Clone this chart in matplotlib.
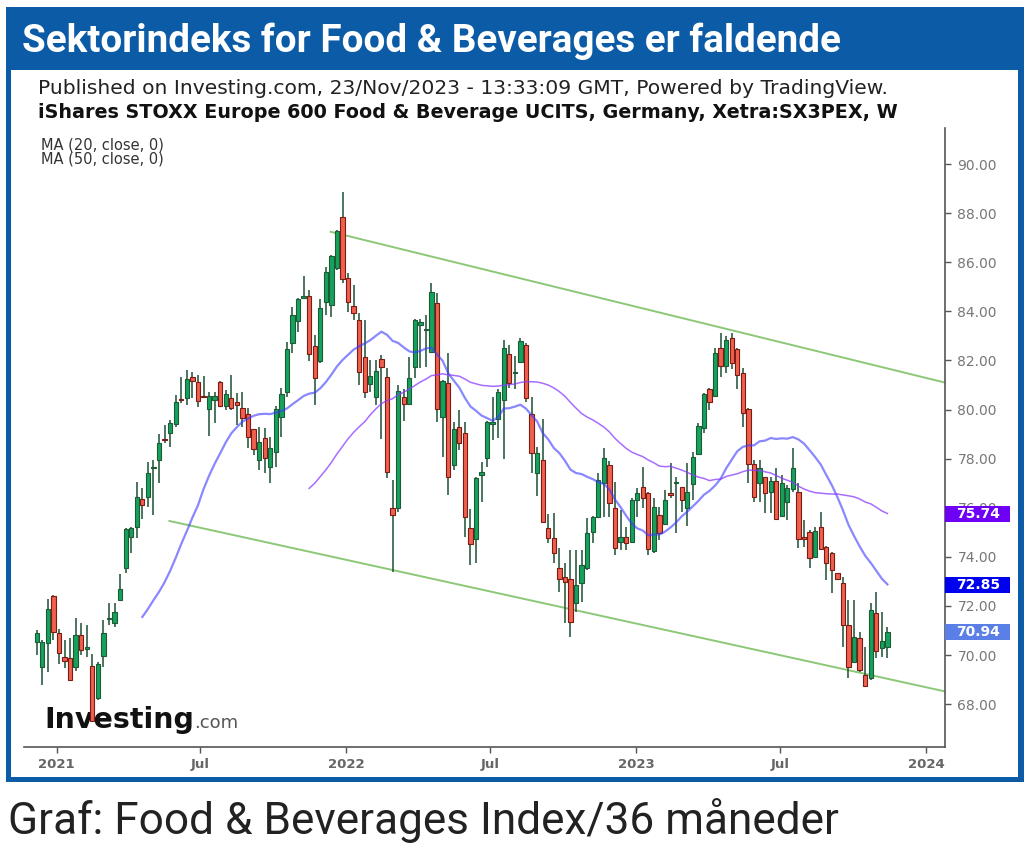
import matplotlib
matplotlib.use("Agg")
import matplotlib.pyplot as plt
import matplotlib.dates as mdates
from matplotlib.patches import Rectangle
from matplotlib import font_manager as fm
import matplotlib.transforms as mtransforms
import numpy as np
import pandas as pd

# ---------------- data (weekly candles) ----------------
start_date = "2020-12-07"
opens = [70.54, 69.53, 70.47, 72.40, 70.88, 69.90, 69.86, 69.50, 70.80, 70.25,
         69.55, 68.24, 69.96, 71.45, 71.29, 72.24, 73.53, 74.79, 75.23, 76.34,
         76.45, 77.63, 77.94, 78.81, 79.03, 79.41, 80.41, 80.45, 81.31, 81.10,
         80.54, 80.01, 80.39, 81.10, 80.14, 80.45, 80.32, 80.05, 79.82, 79.19,
         77.94, 78.83, 77.67, 78.28, 79.68, 80.70, 82.70, 83.62, 84.55, 84.64,
         82.59, 81.99, 84.39, 84.26, 85.75, 87.83, 85.34, 84.22, 83.65, 82.15,
         81.04, 80.50, 82.04, 81.31, 75.97, 75.97, 80.52, 80.22, 81.72, 83.44,
         83.22, 82.36, 84.32, 79.71, 81.07, 77.74, 79.30, 79.03, 75.16, 74.71,
         77.33, 78.01, 79.40, 79.60, 80.39, 82.26, 81.48, 81.95, 82.63, 79.82,
         77.43, 77.94, 75.16, 74.75, 73.53, 73.16, 73.08, 72.10, 72.95, 73.53,
         75.03, 75.64, 76.99, 77.74, 75.97, 74.62, 74.82, 74.62, 76.31, 76.86,
         76.61, 74.25, 75.70, 75.34, 76.60, 77.00, 76.83, 75.97, 76.97, 78.19,
         79.23, 80.82, 80.55, 82.49, 81.77, 82.90, 82.45, 81.47, 80.01, 77.78,
         76.99, 77.24, 76.65, 77.10, 75.66, 76.25, 76.75, 76.65, 74.80, 75.02,
         74.00, 75.23, 74.41, 74.14, 73.33, 72.95, 71.22, 69.73, 70.68, 69.19,
         69.05, 71.72, 70.27, 70.34]
highs = [71.02, 70.60, 72.27, 72.45, 71.04, 70.60, 70.68, 71.50, 71.30, 71.22,
         70.04, 69.73, 71.43, 72.13, 72.13, 73.30, 75.16, 75.20, 77.06, 76.79,
         77.87, 77.94, 79.00, 79.37, 79.57, 80.59, 81.31, 81.61, 81.54, 81.41,
         81.36, 80.73, 80.73, 81.15, 80.80, 81.41, 80.66, 80.73, 80.05, 79.22,
         79.30, 79.23, 78.90, 80.14, 80.86, 82.76, 84.19, 84.53, 85.44, 84.87,
         83.03, 84.49, 85.82, 86.29, 87.31, 88.87, 85.55, 85.07, 83.92, 83.65,
         82.02, 82.02, 82.22, 81.68, 77.13, 81.00, 80.82, 82.15, 83.67, 83.67,
         83.85, 85.14, 84.73, 81.20, 82.29, 79.50, 80.00, 79.50, 75.93, 77.26,
         77.88, 79.55, 80.52, 80.82, 82.83, 82.63, 82.18, 82.90, 82.70, 80.52,
         78.49, 79.60, 75.74, 75.77, 74.35, 73.73, 74.28, 74.28, 74.28, 75.57,
         75.65, 77.40, 78.42, 77.90, 77.06, 75.91, 75.23, 76.38, 76.79, 77.67,
         76.65, 76.38, 76.04, 76.72, 77.81, 77.27, 76.86, 77.81, 78.28, 79.44,
         80.66, 80.86, 82.49, 83.10, 83.00, 83.13, 82.50, 81.68, 80.05, 77.94,
         77.94, 77.27, 77.27, 77.60, 77.33, 76.93, 78.42, 76.99, 75.50, 75.10,
         75.23, 75.84, 74.45, 74.20, 73.36, 73.19, 72.24, 72.24, 70.95, 70.34,
         72.10, 72.58, 71.76, 71.15]
lows = [70.00, 68.78, 69.32, 70.60, 69.63, 69.46, 68.98, 69.33, 70.00, 69.93,
        67.30, 68.17, 69.53, 71.22, 71.15, 72.20, 73.33, 74.14, 74.75, 75.53,
        76.04, 75.70, 77.02, 78.65, 78.46, 79.30, 80.25, 80.18, 80.45, 80.12,
        80.45, 78.92, 79.44, 80.10, 79.98, 79.98, 79.37, 79.30, 78.42, 78.15,
        77.54, 77.40, 76.99, 77.67, 78.87, 80.50, 82.32, 83.17, 84.50, 81.99,
        80.18, 81.91, 83.85, 83.76, 85.68, 85.14, 83.99, 83.65, 81.00, 80.46,
        80.73, 80.18, 78.78, 77.20, 73.39, 75.84, 79.55, 80.20, 81.27, 81.68,
        81.75, 82.30, 79.50, 78.08, 76.50, 77.54, 78.35, 74.82, 73.67, 73.73,
        76.25, 77.67, 78.76, 78.82, 78.00, 80.86, 80.82, 81.88, 80.32, 77.40,
        76.48, 75.36, 74.55, 73.73, 72.58, 71.30, 70.75, 71.76, 72.17, 73.46,
        74.55, 75.61, 75.64, 75.64, 74.07, 74.28, 74.28, 74.60, 75.63, 75.97,
        74.07, 74.14, 74.69, 75.30, 76.38, 74.96, 75.84, 75.25, 76.31, 78.15,
        79.03, 79.98, 80.52, 81.34, 81.47, 81.64, 80.82, 79.30, 76.99, 76.25,
        76.25, 75.80, 75.77, 75.50, 75.63, 75.50, 76.65, 74.35, 74.41, 73.53,
        73.98, 74.28, 73.05, 72.51, 73.05, 70.34, 69.05, 69.66, 69.32, 68.70,
        69.00, 69.86, 69.93, 69.86]
closes = [70.88, 70.54, 71.86, 70.95, 70.10, 69.77, 69.00, 70.80, 70.20, 70.32,
          67.33, 69.63, 70.88, 71.50, 71.77, 72.67, 75.12, 75.16, 76.42, 76.10,
          77.40, 77.67, 78.65, 78.77, 79.44, 80.32, 80.37, 81.23, 81.17, 80.36,
          80.50, 80.55, 80.55, 80.14, 80.63, 80.05, 80.18, 79.64, 78.87, 78.38,
          78.69, 78.01, 78.42, 80.01, 80.63, 82.45, 83.85, 84.49, 84.62, 82.26,
          81.27, 84.12, 85.59, 86.25, 87.29, 85.30, 84.39, 83.92, 81.54, 80.73,
          81.37, 81.57, 81.75, 77.47, 75.70, 80.77, 80.22, 81.27, 83.64, 83.58,
          83.26, 84.80, 80.01, 81.16, 77.26, 79.19, 78.62, 75.61, 74.52, 77.20,
          77.47, 79.50, 79.50, 80.71, 82.49, 81.06, 81.52, 82.80, 80.45, 78.21,
          78.21, 75.43, 74.75, 74.14, 73.08, 72.99, 71.36, 72.85, 73.67, 74.95,
          75.61, 77.13, 78.01, 76.20, 74.35, 74.79, 74.57, 76.31, 76.61, 76.38,
          74.30, 76.04, 74.96, 76.31, 76.50, 77.06, 76.31, 76.65, 78.08, 79.33,
          80.63, 80.32, 82.29, 81.77, 82.83, 81.91, 81.41, 79.87, 77.78, 76.42,
          77.60, 76.61, 77.10, 75.53, 77.02, 76.79, 77.60, 74.71, 74.73, 73.94,
          75.06, 74.30, 73.73, 73.46, 73.08, 71.22, 69.53, 70.75, 69.39, 68.74,
          71.83, 70.18, 70.55, 70.94]

ma_periods = [20, 50]
ma_labels = ["MA (20, close, 0)", "MA (50, close, 0)"]

# trend channel (drawn lines): start/end dates and prices
upper_dates = ["2021-12-12", "2024-01-24"]
upper_prices = [87.24, 81.10]
lower_dates = ["2021-05-23", "2024-01-24"]
lower_prices = [75.46, 68.52]

# last value labels on price axis
value_labels = ["75.74", "72.85", "70.94"]
value_colors = ["#6e00f5", "#0000f0", "#5a80e8"]

y_ticks = [68, 70, 72, 74, 76, 78, 80, 82, 84, 86, 88, 90]
x_tick_dates = ["2021-01-01", "2021-07-01", "2022-01-01", "2022-07-01",
                "2023-01-01", "2023-07-01", "2024-01-01"]
x_tick_labels = ["2021", "Jul", "2022", "Jul", "2023", "Jul", "2024"]

title = "Sektorindeks for Food & Beverages er faldende"
published = "Published on Investing.com, 23/Nov/2023 - 13:33:09 GMT, Powered by TradingView."
instrument = "iShares STOXX Europe 600 Food & Beverage UCITS, Germany, Xetra:SX3PEX, W"
caption = "Graf: Food & Beverages Index/36 måneder"

# ---------------- style ----------------
BLUE = "#0c5ba6"
GREEN_FILL = "#14a35c"
GREEN_EDGE = "#1d5a35"
RED_FILL = "#f0604d"
RED_EDGE = "#7a1c14"
WICK = "#2d5c42"

names = {f.name for f in fm.fontManager.ttflist}
if "Liberation Sans Narrow" in names:
    narrow = "Liberation Sans Narrow"
elif "Roboto" in names:
    narrow = "Roboto"
else:
    narrow = "Open Sans"

W, H = 1030, 847
fig = plt.figure(figsize=(W / 100, H / 100), dpi=100)

# background / frame layer in pixel coordinates
bg = fig.add_axes([0, 0, 1, 1])
bg.set_xlim(0, W)
bg.set_ylim(H, 0)
bg.axis("off")
bg.add_patch(Rectangle((6, 7), 1018, 775, facecolor=BLUE, edgecolor="none"))
bg.add_patch(Rectangle((11, 70), 1007, 707, facecolor="white", edgecolor="none"))

renderer = fig.canvas.get_renderer()


def fit(t, target):
    w = t.get_window_extent(renderer).width
    t.set_fontsize(t.get_fontsize() * target / w)


t_title = bg.text(22, 41, title, color="white", fontsize=28, fontweight="bold",
                  family=[narrow, "DejaVu Sans"], va="center", ha="left")
fit(t_title, 818)
t_pub = bg.text(38, 89, published, color="#222222", fontsize=12,
                family="DejaVu Sans", va="center", ha="left")
fit(t_pub, 845)
t_ins = bg.text(38, 112, instrument, color="#111111", fontsize=12, fontweight="bold",
                family="DejaVu Sans", va="center", ha="left")
fit(t_ins, 857)
t_cap = bg.text(8, 821, caption, color="#222222", fontsize=30,
                family=[narrow, "DejaVu Sans"], va="center", ha="left")
fit(t_cap, 830)

# ---------------- chart axes ----------------
ax = fig.add_axes([24 / W, 1 - 747 / H, (945 - 24) / W, (747 - 128) / H])
ax.set_zorder(2)
ax.patch.set_alpha(0)

dates = pd.date_range(start_date, periods=len(closes), freq="7D")
xd = mdates.date2num(dates)
body_w = 5.4

for x, o, h, l, c in zip(xd, opens, highs, lows, closes):
    up = c >= o
    ax.vlines(x, l, h, color=WICK, linewidth=1.2, zorder=3)
    bot = min(o, c)
    hgt = max(abs(c - o), 0.02)
    ax.add_patch(Rectangle((x - body_w / 2, bot), body_w, hgt,
                           facecolor=GREEN_FILL if up else RED_FILL,
                           edgecolor=GREEN_EDGE if up else RED_EDGE,
                           linewidth=0.8, zorder=4))

cs = pd.Series(closes)
ma_styles = [dict(color="#3a3aff", lw=1.6, alpha=0.6),
             dict(color="#8a3cff", lw=1.1, alpha=0.75)]
for p, st in zip(ma_periods, ma_styles):
    ma = cs.rolling(p).mean()
    ax.plot(xd, ma.values, zorder=5, **st)

ax.plot(mdates.date2num(pd.to_datetime(upper_dates)), upper_prices,
        color="#8cc878", lw=1.4, zorder=2)
ax.plot(mdates.date2num(pd.to_datetime(lower_dates)), lower_prices,
        color="#8cc878", lw=1.4, zorder=2)

x0 = mdates.date2num(pd.Timestamp(start_date))
ax.set_xlim(x0 - 16, x0 + 1143.5)
ax.set_ylim(90 - 583 / 24.55, 90 + 36 / 24.55)

ax.yaxis.tick_right()
ax.set_yticks(y_ticks)
ax.set_yticklabels([f"{v:.2f}" for v in y_ticks])
ax.set_xticks(mdates.date2num(pd.to_datetime(x_tick_dates)))
ax.set_xticklabels(x_tick_labels)
ax.tick_params(axis="y", colors="#555555", labelcolor="#777777", labelsize=10,
               length=4, width=1, pad=5)
ax.tick_params(axis="x", colors="#555555", labelcolor="#666666", labelsize=9.5,
               length=4, width=1, pad=4)
for lab in ax.get_xticklabels():
    lab.set_fontweight("bold")
for s in ["top", "left"]:
    ax.spines[s].set_visible(False)
for s in ["right", "bottom"]:
    ax.spines[s].set_color("#555555")
    ax.spines[s].set_linewidth(1.2)

# value label boxes attached to the price axis
box_tr = mtransforms.blended_transform_factory(ax.transAxes, ax.transData)
box_w = 65 / (945 - 24)
box_h = 16 / 24.55
for lab, col in zip(value_labels, value_colors):
    v = float(lab)
    ax.add_patch(Rectangle((1.0, v - box_h / 2), box_w, box_h, transform=box_tr,
                           facecolor=col, edgecolor="none", clip_on=False, zorder=10))
    ax.text(1.0 + 11 / (945 - 24), v, lab, transform=box_tr, ha="left", va="center",
            color="white", fontsize=10, fontweight="bold", zorder=11, clip_on=False)

# MA legend texts
for i, lab in enumerate(ma_labels):
    ax.text(0.019, 0.972 - i * 0.022, lab, transform=ax.transAxes, fontsize=10.5,
            color="#333333", va="center", ha="left", family="DejaVu Sans")

# investing.com logo
t_inv = ax.text(0.022, 0.03, "Investing", transform=ax.transAxes, fontsize=19,
                fontweight="heavy", color="#111111", va="baseline", ha="left",
                family="DejaVu Sans")
fit(t_inv, 150)
bb = t_inv.get_window_extent(renderer)
inv_end = ax.transAxes.inverted().transform((bb.x1, bb.y0))[0]
ax.text(inv_end, 0.03, ".com", transform=ax.transAxes, fontsize=13,
        color="#555555", va="baseline", ha="left", family="DejaVu Sans")

fig.savefig("out.png", dpi=100)
